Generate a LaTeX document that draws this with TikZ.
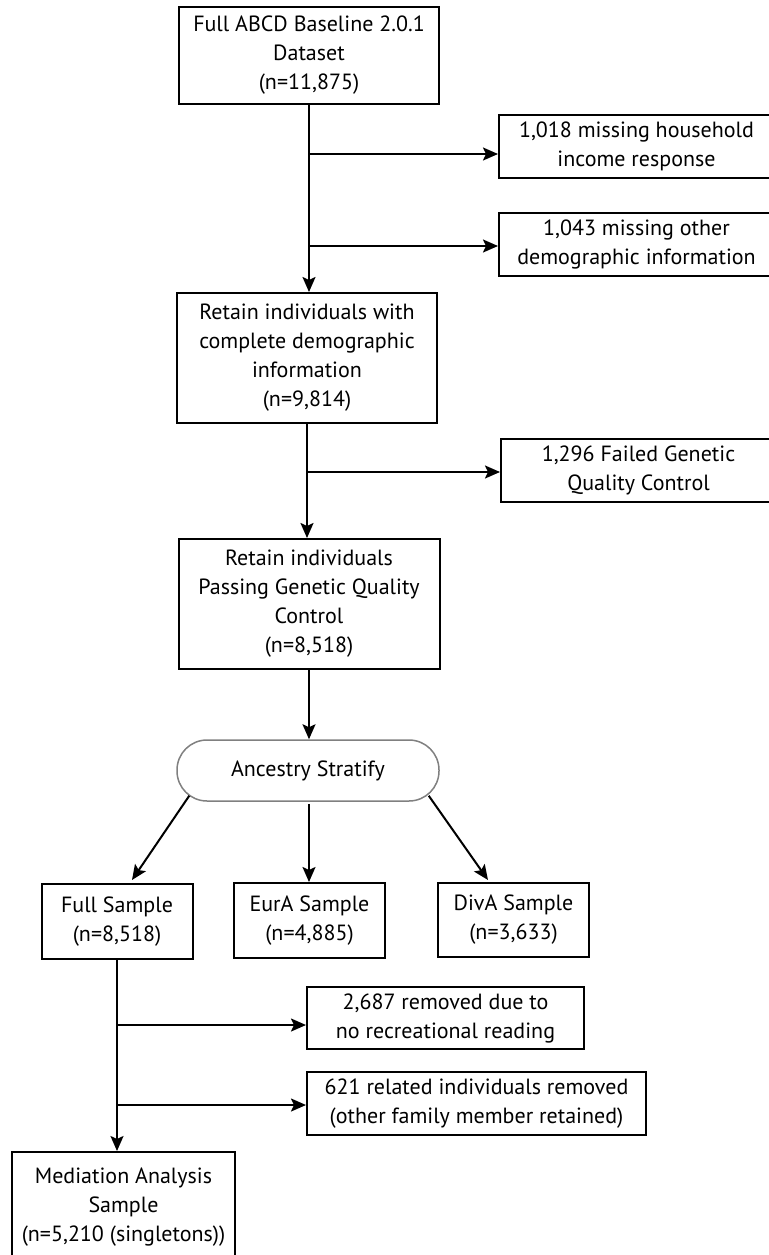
\documentclass[tikz,border=0pt]{standalone}
\usepackage{fontspec}
\setmainfont{PT Sans}
\usetikzlibrary{arrows.meta,calc}
\begin{document}
\begin{tikzpicture}[x=1pt,y=-1pt,
  box/.style={draw=black,line width=2pt,fill=white,align=center,inner sep=0pt,
    font=\fontsize{22}{29}\selectfont},
  stadium/.style={draw=black!50,line width=1.5pt,fill=white,rounded corners=30pt,
    align=center,inner sep=0pt,font=\fontsize{22}{29}\selectfont},
  arr/.style={line width=2pt,-{Stealth[length=15pt,width=13pt,inset=3pt]}}]
\useasboundingbox (0,0) rectangle (768,1255);

% boxes
\node[box,minimum width=260pt,minimum height=97pt] (b1) at (309,55.5)
  {Full ABCD Baseline 2.0.1\\Dataset\\(n=11,875)};
\node[box,minimum width=275pt,minimum height=63pt] (r1) at (636.5,146.5)
  {1,018 missing household\\income response};
\node[box,minimum width=275pt,minimum height=63pt] (r2) at (636.5,244.5)
  {1,043 missing other\\demographic information};
\node[box,minimum width=260pt,minimum height=130pt] (b3) at (307,358)
  {Retain individuals with\\complete demographic\\information\\(n=9,814)};
\node[box,minimum width=275pt,minimum height=63pt] (r3) at (638.5,470.5)
  {1,296 Failed Genetic\\Quality Control};
\node[box,minimum width=261pt,minimum height=130pt] (b4) at (309,604)
  {Retain individuals\\Passing Genetic Quality\\Control\\(n=8,518)};
\node[stadium,minimum width=262pt,minimum height=61pt] (st) at (308,770.5)
  {Ancestry Stratify};
\node[box,minimum width=151pt,minimum height=75pt] (full) at (117,921.5)
  {Full Sample\\(n=8,518)};
\node[box,minimum width=151pt,minimum height=75pt] (eur) at (309.5,920.5)
  {EurA Sample\\(n=4,885)};
\node[box,minimum width=151pt,minimum height=74pt] (div) at (513.5,920)
  {DivA Sample\\(n=3,633)};
\node[box,minimum width=277pt,minimum height=62pt] (r4) at (445.5,1018)
  {2,687 removed due to\\no recreational reading};
\node[box,minimum width=339pt,minimum height=63pt] (r5) at (476.5,1103.5)
  {621 related individuals removed\\(other family member retained)};
\node[box,minimum width=223pt,minimum height=110pt] (med) at (123.5,1207)
  {Mediation Analysis\\Sample\\(n=5,210 (singletons))};

% connectors
\draw[arr] (b1.south) -- (b1.south |- b3.north);
\coordinate (j1) at ($(b1.south)+(0,49)$);
\coordinate (j2) at ($(b1.south)+(0,141)$);
\draw[arr] (j1) -- (j1 -| r1.west);
\draw[arr] (j2) -- (j2 -| r2.west);

\draw[arr] (b3.south) -- (b3.south |- b4.north);
\coordinate (j3) at ($(b3.south)+(0,48)$);
\draw[arr] (j3) -- (j3 -| r3.west);

\draw[arr] (b4.south) -- (b4.south |- st.north);

\coordinate (sl) at ($(st.south west)+(13,-6)$);
\coordinate (sr) at ($(st.south east)+(-11,-6)$);
\coordinate (sm) at ($(st.south)+(1,2)$);
\coordinate (fl) at ($(full.north)+(15,-3)$);
\coordinate (dr) at ($(div.north)+(-25.5,-2)$);
\draw[arr] (sl) -- (fl);
\draw[arr] (sm) -- (sm |- eur.north);
\draw[arr] (sr) -- (dr);

\draw[arr] (full.south) -- (full.south |- med.north);
\coordinate (j4) at ($(full.south)+(0,65)$);
\coordinate (j5) at ($(full.south)+(0,145)$);
\draw[arr] (j4) -- (j4 -| r4.west);
\draw[arr] (j5) -- (j5 -| r5.west);
\end{tikzpicture}
\end{document}
